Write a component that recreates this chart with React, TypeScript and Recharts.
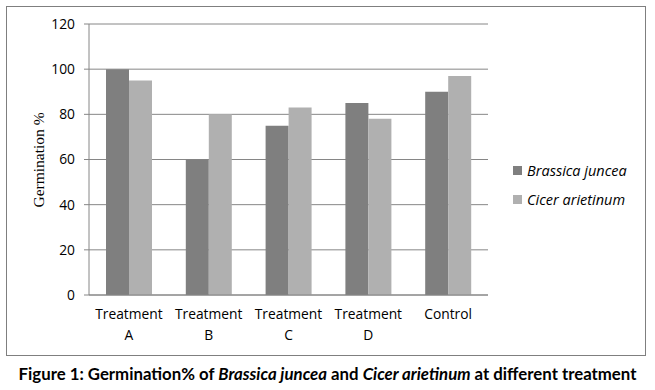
import React from "react";
import { BarChart, Bar, XAxis, YAxis, CartesianGrid } from "recharts";

const categories = ["Treatment A", "Treatment B", "Treatment C", "Treatment D", "Control"];
const brassica = [100, 60, 75, 85, 90];
const cicer = [95, 80, 83, 78, 97];
const yTicks = [0, 20, 40, 60, 80, 100, 120];

const SERIES = [
  { key: "brassica", name: "Brassica juncea", color: "#7f7f7f" },
  { key: "cicer", name: "Cicer arietinum", color: "#b0b0b0" },
];

const data = categories.map((c, i) => ({ name: c, brassica: brassica[i], cicer: cicer[i] }));

const FONT = "'Open Sans', 'Liberation Sans', sans-serif";
const AXIS = "#868686";

function CategoryTick(props: any) {
  const { x, y, payload } = props;
  const words = String(payload.value).split(" ");
  return (
    <g transform={`translate(${x},${y})`}>
      {words.map((w: string, i: number) => (
        <text
          key={i}
          x={0}
          y={i * 21}
          dy={16}
          textAnchor="middle"
          fill="#000"
          fontSize={13.8}
          fontFamily={FONT}
        >
          {w}
        </text>
      ))}
    </g>
  );
}

export default function App() {
  return (
    <div style={{ position: "absolute", left: 0, top: 0, width: 655, height: 390, background: "#fff" }}>
      <div
        style={{
          position: "absolute",
          left: 6,
          top: 6,
          width: 638,
          height: 348,
          border: "1px solid #7f7f7f",
        }}
      />
      <div style={{ position: "absolute", left: 0, top: 0 }}>
        <BarChart
          width={655}
          height={390}
          data={data}
          margin={{ top: 24, right: 167, bottom: 45, left: 29 }}
          barGap={0}
          barSize={23}
        >
          <CartesianGrid vertical={false} stroke={AXIS} strokeWidth={1} />
          <XAxis
            dataKey="name"
            height={50}
            axisLine={{ stroke: AXIS }}
            tickLine={false}
            interval={0}
            tick={<CategoryTick />}
          />
          <YAxis
            width={60}
            domain={[0, 120]}
            ticks={yTicks}
            interval={0}
            axisLine={{ stroke: AXIS }}
            tickLine={{ stroke: AXIS }}
            tickSize={5}
            tickMargin={9}
            tick={{ fill: "#000", fontSize: 13.8, fontFamily: FONT }}
            label={{
              content: () => (
                <text
                  x={38}
                  y={160}
                  transform="rotate(-90, 38, 160)"
                  textAnchor="middle"
                  dominantBaseline="central"
                  fontFamily="'Liberation Serif', 'Times New Roman', serif"
                  fontSize={15.5}
                  fill="#000"
                >
                  Germination %
                </text>
              ),
            }}
          />
          {SERIES.map((s) => (
            <Bar key={s.key} dataKey={s.key} name={s.name} fill={s.color} isAnimationActive={false} />
          ))}
        </BarChart>
      </div>
      <div style={{ position: "absolute", left: 513, top: 156, fontFamily: FONT, fontSize: 14.5, fontStyle: "italic" }}>
        {SERIES.map((s) => (
          <div key={s.key} style={{ display: "flex", alignItems: "center", height: 29 }}>
            <span style={{ width: 9, height: 9, background: s.color, marginRight: 5 }} />
            <span>{s.name}</span>
          </div>
        ))}
      </div>
      <div
        style={{
          position: "absolute",
          left: 0,
          top: 363,
          width: 655,
          textAlign: "center",
          fontFamily: "Lato, 'Open Sans', sans-serif",
          fontWeight: 700,
          fontSize: 16.8,
          whiteSpace: "nowrap",
        }}
      >
        Figure 1: Germination% of <i>Brassica juncea</i> and <i>Cicer arietinum</i> at different treatment
      </div>
    </div>
  );
}
